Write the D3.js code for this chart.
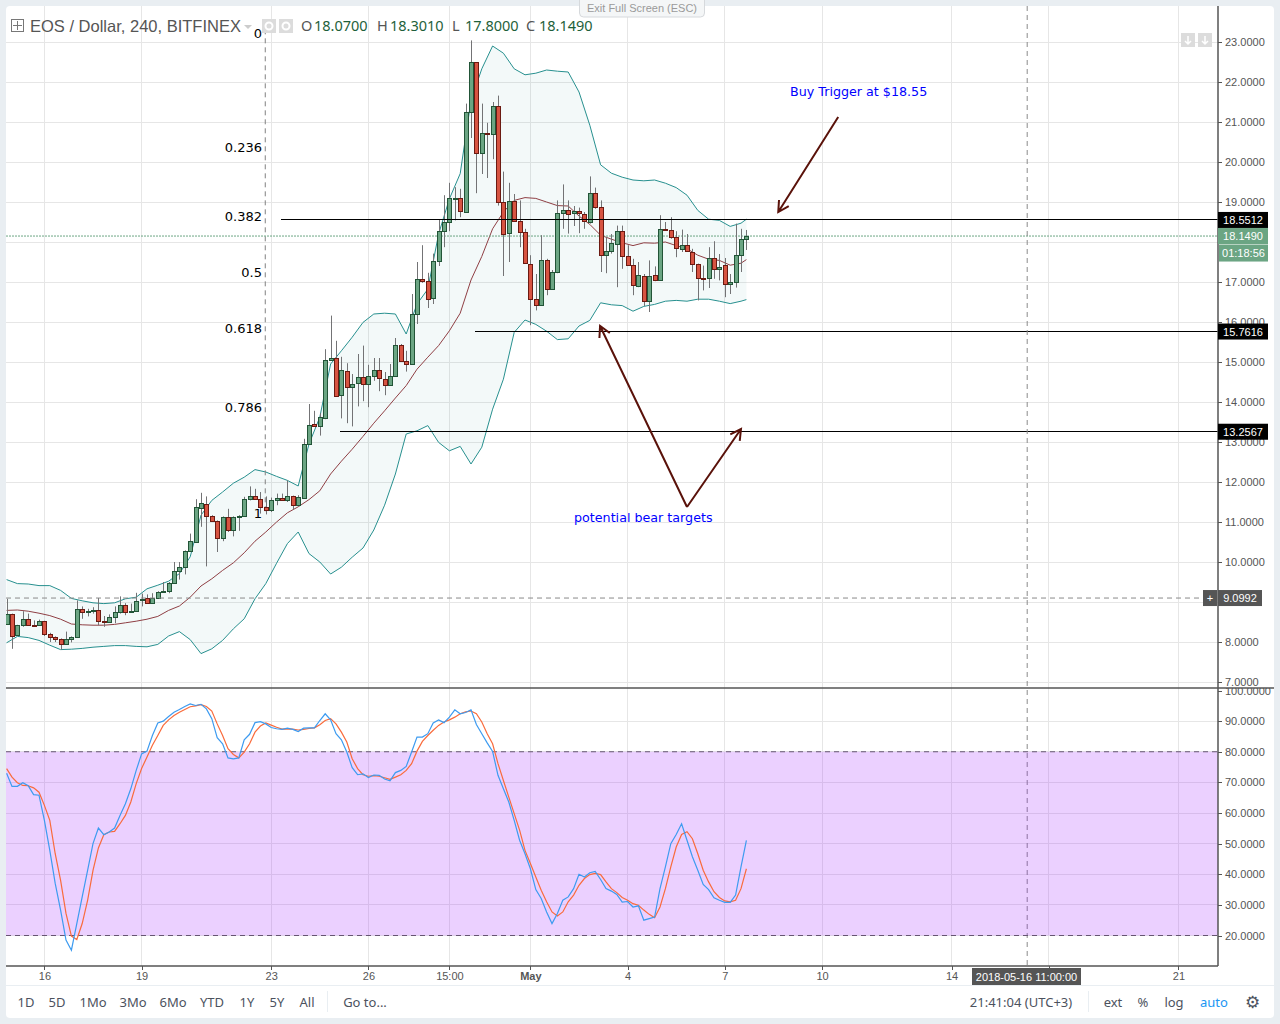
<!DOCTYPE html>
<html>
<head>
<meta charset="utf-8">
<script src="https://d3js.org/d3.v7.min.js"></script>
<style>
    html, body { margin: 0; padding: 0; background: #e9eef2; }
    svg { display: block; }
    text { font-family: "Liberation Sans", Arial, sans-serif; }
    .axis text { font-size: 11px; fill: #555; font-family: "Liberation Sans", Arial, sans-serif; }
    .axis line, .axis path { stroke: #555; shape-rendering: crispEdges; }
    .grid line { stroke: #e6e6e6; shape-rendering: crispEdges; }
    .tool { font-family: "Noto Sans", sans-serif; font-size: 13px; fill: #4c525e; }
    .fib { font-family: "DejaVu Sans", sans-serif; font-size: 13px; fill: #000; text-anchor: end; }
    .note { font-family: "DejaVu Sans", sans-serif; font-size: 12.7px; fill: #0000ff; }
    .ohlc { font-family: "Noto Sans", sans-serif; font-size: 14.5px; }
</style>
</head>
<body>
<svg id="chart" width="1280" height="1024"></svg>
<script>
(function() {
    'use strict';

    /* candles, one per 4h bar */
    var opens = [8.47,8.71,8.18,8.43,8.58,8.43,8.43,8.53,8.21,8.13,8.08,7.96,8.08,8.13,8.83,8.76,8.78,8.81,8.53,8.51,
        8.63,8.76,8.93,8.76,8.78,9.06,9.11,8.98,9.11,9.26,9.28,9.48,9.78,9.88,10.28,10.51,11.36,11.46,11.16,11.03,
        10.61,11.13,10.81,11.13,11.16,11.58,11.66,11.58,11.38,11.31,11.56,11.61,11.56,11.66,11.43,11.61,12.95,13.45,13.40,13.6,
        15.05,15.10,14.18,14.77,14.37,14.47,14.62,14.45,14.65,14.80,14.57,14.42,14.65,15.42,15.02,14.95,16.2,17.08,17.03,16.6,
        17.53,18.28,18.5,19.1,19.1,18.76,21.26,22.5,20.23,20.73,20.7,21.4,19.0,18.23,19.03,18.53,18.26,17.45,16.58,16.43,
        17.56,16.83,17.26,18.73,18.81,18.71,18.77,18.71,18.51,19.23,18.88,17.68,17.78,17.96,18.28,17.66,17.43,16.91,17.16,16.53,
        17.18,17.06,18.33,18.3,18.13,17.83,17.93,17.76,17.46,17.11,17.08,17.6,17.33,17.43,16.96,17.0,17.68,18.07];
    var highs = [9.08,8.71,8.43,8.77,8.71,8.54,8.56,8.53,8.23,8.14,8.09,8.26,8.14,9.04,8.89,8.83,8.87,9.10,8.65,8.69,
        8.89,9.14,8.97,8.96,9.23,9.21,9.19,9.22,9.27,9.5,9.5,10.0,10.0,10.29,10.71,11.57,11.73,11.64,11.17,11.04,
        11.14,11.33,11.14,11.17,11.63,11.89,11.83,11.75,11.64,11.61,11.71,11.71,12.04,11.66,11.67,13.08,13.95,13.78,13.72,15.32,
        16.16,15.53,15.13,14.97,14.70,15.2,15.41,14.93,15.1,15.1,14.75,14.95,15.6,15.45,15.28,16.7,17.5,17.92,17.23,17.71,
        18.56,19.17,19.48,19.37,19.33,21.46,23.04,22.5,21.46,20.98,21.5,21.66,19.76,19.48,19.2,19.04,18.33,17.67,17.2,18.17,
        17.58,17.3,19.04,19.44,19.04,18.9,18.86,18.75,19.64,19.36,19.04,18.12,18.2,18.41,18.41,17.92,17.58,17.5,17.2,17.54,
        17.39,18.67,18.5,18.62,18.27,18.31,18.2,17.83,17.46,17.41,17.87,18.02,17.7,17.6,17.2,18.46,18.33,18.301];
    var lows = [8.44,7.83,8.16,8.38,8.42,8.41,8.43,8.15,8.0,8.0,7.81,7.96,7.99,8.11,8.58,8.64,8.71,8.42,8.38,8.49,
        8.47,8.71,8.67,8.74,8.77,8.89,8.96,8.96,9.1,9.25,9.22,9.46,9.56,9.69,10.26,10.49,10.88,9.89,11.0,10.25,
        10.52,10.75,10.64,10.78,11.14,11.54,11.56,11.21,11.19,11.25,11.42,11.54,11.5,11.31,11.42,11.59,12.95,13.40,13.16,13.57,
        15.05,14.15,13.59,13.47,13.39,13.89,14.02,13.87,14.53,14.27,14.17,14.42,14.65,15.02,14.76,14.95,15.95,16.98,16.35,16.45,
        17.4,17.87,18.27,18.54,18.62,18.76,20.6,19.22,19.7,19.6,20.07,18.91,17.15,17.5,18.53,17.87,17.48,15.92,16.29,16.43,
        16.67,16.83,17.22,18.33,18.21,18.4,18.22,18.33,18.46,18.83,17.25,17.22,17.71,16.87,17.33,17.41,16.67,16.87,16.4,16.25,
        17.02,17.04,18.28,18.08,17.62,17.75,17.76,17.25,16.54,16.79,16.85,17.08,17.04,16.62,16.7,16.86,17.25,17.8];
    var closes = [8.71,8.16,8.43,8.58,8.43,8.42,8.53,8.21,8.13,8.08,7.96,8.08,8.13,8.83,8.76,8.78,8.81,8.53,8.51,8.63,
        8.76,8.93,8.76,8.78,9.03,9.08,8.98,9.11,9.26,9.28,9.48,9.78,9.88,10.28,10.53,11.38,11.48,11.16,11.03,10.61,
        11.13,10.81,11.13,11.16,11.58,11.66,11.58,11.38,11.31,11.56,11.61,11.56,11.66,11.43,11.63,12.95,13.42,13.40,13.62,15.05,
        15.10,14.15,14.80,14.37,14.45,14.62,14.45,14.65,14.80,14.60,14.42,14.65,15.42,15.02,14.95,16.2,17.08,17.03,16.59,17.53,
        18.28,18.5,19.1,19.1,18.78,21.26,22.5,20.23,20.73,20.7,21.4,19.0,18.2,19.03,18.53,18.26,17.48,16.58,16.43,17.56,
        16.83,17.26,18.73,18.81,18.71,18.77,18.71,18.53,19.23,18.88,17.68,17.78,17.98,18.28,17.66,17.43,16.93,17.18,16.53,17.16,
        17.06,18.33,18.3,18.13,17.86,17.93,17.78,17.46,17.11,17.08,17.59,17.33,17.38,16.96,17.0,17.68,18.08,18.149];

    /* bollinger bands, read every second bar (and the last one) */
    var bandBars = d3.range(0, 137, 2).concat([137]);
    var bandUpper = [9.56,9.46,9.45,9.41,9.41,9.29,9.09,9.03,8.98,8.96,8.98,9.08,9.12,9.33,9.42,9.52,9.71,10.13,11.17,11.54,
        11.75,11.97,12.12,12.31,12.25,12.14,12.04,11.9,12.95,13.62,14.95,15.28,15.62,15.99,16.2,16.22,16.2,15.7,16.45,16.82,
        18.2,19.08,19.71,21.54,22.33,22.9,22.72,22.33,22.18,22.22,22.3,22.27,22.25,21.75,20.92,19.93,19.72,19.62,19.55,19.53,
        19.55,19.47,19.36,19.17,18.79,18.57,18.54,18.39,18.47,18.57];
    var bandMiddle = [8.79,8.8,8.77,8.72,8.66,8.57,8.45,8.43,8.42,8.42,8.44,8.48,8.52,8.57,8.64,8.79,8.9,9.12,9.4,9.58,
        9.79,9.98,10.23,10.52,10.75,11.0,11.23,11.38,11.56,11.78,12.2,12.52,12.82,13.14,13.47,13.78,14.1,14.41,14.82,15.12,
        15.41,15.78,16.22,17.05,17.64,18.33,18.75,19.04,19.11,19.09,19.0,18.91,18.9,18.65,18.44,18.17,18.07,17.98,17.91,17.98,
        17.97,18.0,17.91,17.83,17.67,17.57,17.54,17.42,17.47,17.56];
    var bandLower = [7.98,8.14,8.11,8.04,7.92,7.81,7.82,7.84,7.87,7.89,7.91,7.91,7.89,7.88,7.94,8.15,8.26,8.06,7.71,7.83,
        8.04,8.33,8.58,9.08,9.46,9.97,10.46,10.75,10.21,10.0,9.7,9.87,10.12,10.35,10.8,11.42,12.2,13.2,13.28,13.41,
        12.99,12.78,12.89,12.45,12.87,13.82,14.57,15.74,16.05,15.94,15.77,15.56,15.58,15.9,16.04,16.48,16.43,16.41,16.27,16.39,
        16.44,16.52,16.54,16.52,16.57,16.57,16.52,16.46,16.52,16.56];

    /* stochastic, one value per bar */
    var stochK = [73.0,68.7,68.7,69.9,68.9,66.0,65.8,57.6,47.8,37.0,28.3,18.5,15.2,23.9,32.6,41.3,50.0,55.1,52.9,53.8,
        55.1,59.2,63.0,67.9,73.9,79.3,80.2,85.3,89.4,90.0,91.5,92.9,93.8,94.8,95.6,95.1,95.5,94.0,90.8,84.6,
        82.6,78.0,77.7,78.0,83.9,85.7,89.5,89.8,89.1,87.9,87.5,87.3,87.7,87.3,86.6,87.7,87.8,87.8,90.2,92.4,
        90.4,85.9,83.9,79.9,74.8,72.5,72.8,71.6,72.4,72.3,71.1,70.5,73.2,73.9,75.2,79.9,84.8,84.8,85.9,89.4,
        90.4,89.5,91.3,93.7,92.4,92.8,93.7,88.9,85.9,82.9,80.1,72.3,67.9,63.6,57.6,51.1,46.7,41.8,35.0,32.1,
        27.7,23.9,27.2,31.5,32.6,35.3,40.0,39.1,40.5,40.9,38.3,35.3,34.5,33.4,30.9,31.1,29.3,29.7,25.0,25.5,
        26.0,35.3,42.4,50.0,53.0,56.5,51.1,45.7,41.3,36.7,35.0,32.3,31.5,30.8,30.8,33.2,42.4,51.1];
    var stochD = [74.5,71.7,69.9,69.0,68.9,68.2,66.8,62.5,57.6,46.7,38.0,27.2,19.8,18.7,23.9,31.5,41.3,48.6,52.9,53.8,
        54.0,56.5,59.2,63.6,69.6,74.5,78.3,82.1,85.3,88.6,90.4,91.8,92.9,93.8,94.7,95.0,95.4,94.8,93.3,89.1,
        85.3,81.0,79.1,78.0,79.9,82.6,86.4,88.4,89.4,88.7,88.0,87.4,87.5,87.4,87.1,87.3,87.6,87.8,88.8,90.2,
        90.8,89.1,86.4,83.2,77.7,74.5,72.5,72.0,72.2,72.0,71.5,71.0,71.7,72.5,73.9,76.1,80.2,83.4,85.3,87.0,
        88.6,89.7,90.4,91.3,92.4,93.0,93.3,92.4,89.7,85.9,82.6,76.1,70.6,65.2,59.8,54.4,47.8,43.5,39.1,34.8,
        31.0,27.7,26.4,27.7,31.0,33.2,36.4,38.6,39.9,40.3,39.9,37.5,35.3,34.0,32.4,31.5,30.4,29.9,28.3,26.9,
        25.8,29.3,35.3,42.4,48.9,53.0,53.9,51.6,46.7,41.3,37.5,34.3,32.4,31.3,31.0,31.5,35.3,41.8];

    /* axes */
    var priceTicks = d3.range(7, 24);
    var hiddenPriceTicks = [9, 18];   // covered by price tags in the picture
    var stochTicks = d3.range(20, 101, 10);
    var timeBars = [7, 25, 49, 67, 82, 97, 115, 133, 151, 175, 193, 217];
    var timeLabels = ['16', '19', '23', '26', '15:00', 'May', '4', '7', '10', '14', '', '21'];

    /* drawings */
    var fibNames = ['0', '0.236', '0.382', '0.5', '0.618', '0.786', '1'];
    var fibPrices = [23.067, 20.28, 18.5512, 17.157, 15.7616, 13.776, 11.247];
    var levelPrices = [18.5512, 15.7616, 13.2567];
    var levelStartBars = [50.8, 86.7, 61.7];
    var arrowFrom = [[154, 21.125], [126, 11.375], [126, 11.375]];
    var arrowTo = [[142.9, 18.75], [109.9, 15.9], [136, 13.325]];

    var L = 6, R = 1218, PANEL_R = 1274, TOP = 6, SPLIT = 688, BOTTOM = 966;

    var x = d3.scaleLinear().domain([0, 224]).range([6.6, 6.6 + 5.4 * 224]);
    var yPrice = d3.scaleLinear().domain([7, 23]).range([682, 42]);
    var yStoch = d3.scaleLinear().domain([20, 100]).range([935.5, 690.5]);

    var svg = d3.select('#chart');
    var defs = svg.append('defs');

    defs.append('clipPath').attr('id', 'clipPrice').append('rect')
        .attr('x', L).attr('y', TOP).attr('width', R - L).attr('height', SPLIT - TOP);
    defs.append('clipPath').attr('id', 'clipStoch').append('rect')
        .attr('x', L).attr('y', SPLIT).attr('width', R - L).attr('height', BOTTOM - SPLIT);
    defs.append('clipPath').attr('id', 'clipStochAxis').append('rect')
        .attr('x', R).attr('y', SPLIT).attr('width', PANEL_R - R).attr('height', BOTTOM - SPLIT);

    /* panel */
    svg.append('rect')
        .attr('x', L).attr('y', TOP).attr('width', PANEL_R - L).attr('height', 1018 - TOP)
        .attr('rx', 4).attr('fill', '#fff');

    /******************************************************************
        grid
     ******************************************************************/
    var grid = svg.append('g').attr('class', 'grid');

    grid.selectAll('.v').data(timeBars).enter().append('line')
        .attr('x1', x).attr('x2', x).attr('y1', TOP).attr('y2', BOTTOM);
    grid.selectAll('.p').data(priceTicks).enter().append('line')
        .attr('x1', L).attr('x2', R).attr('y1', yPrice).attr('y2', yPrice);
    grid.selectAll('.s').data(stochTicks.slice(0, -1)).enter().append('line')
        .attr('x1', L).attr('x2', R).attr('y1', yStoch).attr('y2', yStoch);

    /******************************************************************
        bollinger bands
     ******************************************************************/
    var price = svg.append('g').attr('clip-path', 'url(#clipPrice)');

    var bandIdx = d3.range(bandBars.length);

    price.append('path')
        .attr('fill', '#138484').attr('fill-opacity', 0.05)
        .attr('d', d3.area()
            .x(function(i) { return x(bandBars[i]); })
            .y0(function(i) { return yPrice(bandLower[i]); })
            .y1(function(i) { return yPrice(bandUpper[i]); })(bandIdx));

    [[bandUpper, '#27908f'], [bandLower, '#27908f'], [bandMiddle, '#8f3f44']].forEach(function(b) {
        price.append('path')
            .attr('fill', 'none').attr('stroke', b[1]).attr('stroke-width', 1)
            .attr('d', d3.line()
                .x(function(i) { return x(bandBars[i]); })
                .y(function(i) { return yPrice(b[0][i]); })(bandIdx));
    });

    /******************************************************************
        levels and fibonacci
     ******************************************************************/
    price.append('line')
        .attr('x1', x(47.9)).attr('x2', x(47.9))
        .attr('y1', yPrice(fibPrices[0]) - 10).attr('y2', yPrice(fibPrices[6]))
        .attr('stroke', '#808080').attr('stroke-dasharray', '5,4');

    price.append('line')
        .attr('x1', L).attr('x2', R).attr('y1', yPrice(18.149)).attr('y2', yPrice(18.149))
        .attr('stroke', '#6ba583').attr('stroke-dasharray', '2,1');

    svg.selectAll('.fib').data(fibNames).enter().append('text')
        .attr('class', 'fib')
        .attr('x', 262)
        .attr('y', function(d, i) {
            return yPrice(fibPrices[i]) + (d === '0' ? -1 : d === '1' ? 6 : 1);
        })
        .text(function(d) { return d; });

    /******************************************************************
        candles
     ******************************************************************/
    var bars = d3.range(closes.length);
    var candles = price.selectAll('.candle').data(bars).enter().append('g')
        .attr('transform', function(i) { return 'translate(' + (Math.round(x(i)) + 0.5) + ',0)'; });

    candles.append('line')
        .attr('y1', function(i) { return yPrice(highs[i]); })
        .attr('y2', function(i) { return yPrice(lows[i]); })
        .attr('stroke', '#737375');

    candles.append('rect')
        .attr('x', -2).attr('width', 4)
        .attr('y', function(i) { return Math.round(yPrice(Math.max(opens[i], closes[i]))) + 0.5; })
        .attr('height', function(i) {
            return Math.max(1, Math.round(Math.abs(yPrice(opens[i]) - yPrice(closes[i]))));
        })
        .attr('fill', function(i) { return closes[i] >= opens[i] ? '#6ba583' : '#d75442'; })
        .attr('stroke', function(i) { return closes[i] >= opens[i] ? '#225437' : '#6b1a12'; })
        .attr('shape-rendering', 'crispEdges');

    /* horizontal lines sit on top of the candles */
    levelPrices.forEach(function(p, i) {
        price.append('line')
            .attr('x1', x(levelStartBars[i])).attr('x2', R)
            .attr('y1', yPrice(p)).attr('y2', yPrice(p))
            .attr('stroke', '#000').attr('stroke-width', 1)
            .attr('shape-rendering', 'crispEdges');
    });

    /* crosshair */
    price.append('line')
        .attr('x1', L).attr('x2', R - 15).attr('y1', yPrice(9.0992)).attr('y2', yPrice(9.0992))
        .attr('stroke', '#8a8a8a').attr('stroke-dasharray', '5,4');
    svg.append('line')
        .attr('x1', x(189)).attr('x2', x(189)).attr('y1', TOP).attr('y2', BOTTOM)
        .attr('stroke', '#8a8a8a').attr('stroke-dasharray', '5,4');

    /******************************************************************
        arrows
     ******************************************************************/
    var arrows = svg.append('g')
        .attr('fill', 'none').attr('stroke', '#5a120a')
        .attr('stroke-width', 2);

    arrowFrom.forEach(function(from, i) {
        var x1 = x(from[0]), y1 = yPrice(from[1]),
            x2 = x(arrowTo[i][0]), y2 = yPrice(arrowTo[i][1]),
            a = Math.atan2(y2 - y1, x2 - x1),
            h = 12, w = 0.5;

        arrows.append('path').attr('d', 'M' + x1 + ' ' + y1 + ' L' + x2 + ' ' + y2 +
            ' M' + (x2 - h * Math.cos(a - w)) + ' ' + (y2 - h * Math.sin(a - w)) +
            ' L' + x2 + ' ' + y2 +
            ' L' + (x2 - h * Math.cos(a + w)) + ' ' + (y2 - h * Math.sin(a + w)));
    });

    svg.append('text').attr('class', 'note').attr('x', 790).attr('y', 96).text('Buy Trigger at $18.55');
    svg.append('text').attr('class', 'note').attr('x', 574).attr('y', 522).text('potential bear targets');

    /******************************************************************
        stochastic pane
     ******************************************************************/
    var stoch = svg.append('g').attr('clip-path', 'url(#clipStoch)');

    stoch.append('rect')
        .attr('x', L).attr('width', R - L)
        .attr('y', yStoch(80)).attr('height', yStoch(20) - yStoch(80))
        .attr('fill', '#9915ff').attr('fill-opacity', 0.2);

    [80, 20].forEach(function(v) {
        stoch.append('line')
            .attr('x1', L).attr('x2', R).attr('y1', yStoch(v)).attr('y2', yStoch(v))
            .attr('stroke', '#665572').attr('stroke-dasharray', '5,4').attr('stroke-width', 1.2);
    });

    [[stochD, '#f96b3c'], [stochK, '#3d9bf0']].forEach(function(s) {
        stoch.append('path')
            .attr('fill', 'none').attr('stroke', s[1]).attr('stroke-width', 1.2)
            .attr('d', d3.line()
                .x(function(d, i) { return x(i); })
                .y(function(d) { return yStoch(d); })(s[0]));
    });

    /******************************************************************
        axes
     ******************************************************************/
    var priceAxis = d3.axisRight(yPrice).tickValues(priceTicks)
        .tickFormat(function(d) { return hiddenPriceTicks.indexOf(d) < 0 ? d3.format('.4f')(d) : ''; })
        .tickSize(4).tickPadding(3);
    var stochAxis = d3.axisRight(yStoch).tickValues(stochTicks)
        .tickFormat(d3.format('.4f')).tickSize(4).tickPadding(3);
    var timeAxis = d3.axisBottom(x).tickValues(timeBars)
        .tickFormat(function(d) { return timeLabels[timeBars.indexOf(d)]; })
        .tickSize(4).tickPadding(2);

    svg.append('g').attr('class', 'axis')
        .attr('transform', 'translate(' + R + ',0)').call(priceAxis)
        .select('.domain').remove();

    svg.append('g').attr('clip-path', 'url(#clipStochAxis)')
        .append('g').attr('class', 'axis')
        .attr('transform', 'translate(' + R + ',0)').call(stochAxis)
        .select('.domain').remove();

    var tg = svg.append('g').attr('class', 'axis')
        .attr('transform', 'translate(0,' + BOTTOM + ')').call(timeAxis);
    tg.select('.domain').remove();
    tg.selectAll('text').style('font-weight', function(d) {
        return d === 97 ? 'bold' : null;
    });

    /* pane frames */
    [[L, R, BOTTOM, BOTTOM], [L, PANEL_R, SPLIT, SPLIT], [R, R, TOP, BOTTOM]].forEach(function(f) {
        svg.append('line')
            .attr('x1', f[0]).attr('x2', f[1]).attr('y1', f[2]).attr('y2', f[3])
            .attr('stroke', '#555').attr('stroke-width', 1.5);
    });

    /******************************************************************
        price tags
     ******************************************************************/
    function tag(y, h, fill, label, tx, wd) {
        svg.append('rect').attr('x', tx).attr('y', y - h / 2).attr('width', wd).attr('height', h).attr('fill', fill);
        svg.append('text').attr('x', tx + wd / 2).attr('y', y + 4)
            .attr('text-anchor', 'middle').attr('font-size', 11).attr('fill', '#fff').text(label);
    }

    levelPrices.forEach(function(p) {
        tag(yPrice(p), 16, '#000', d3.format('.4f')(p), R, 50);
    });
    tag(yPrice(18.149), 16, '#6ba583', '18.1490', R, 50);
    tag(yPrice(18.149) + 17, 17, '#6ba583', '01:18:56', R + 1, 49);
    tag(yPrice(9.0992), 16, '#555', '9.0992', R, 44);
    tag(yPrice(9.0992), 16, '#555', '+', R - 15, 14);
    tag(977, 18, '#555', '2018-05-16 11:00:00', 972, 109);

    /******************************************************************
        top legend and small buttons
     ******************************************************************/
    svg.append('rect').attr('x', 11.5).attr('y', 19.5).attr('width', 12).attr('height', 12)
        .attr('fill', 'none').attr('stroke', '#777');
    svg.append('path').attr('d', 'M17.5 21 V30 M13 25.5 H22').attr('stroke', '#777');

    svg.append('text').attr('x', 30).attr('y', 32)
        .attr('font-family', '"DejaVu Sans", sans-serif').attr('font-size', 16.5).attr('fill', '#555')
        .text('EOS / Dollar, 240, BITFINEX');
    svg.append('path').attr('d', 'M244 25 h8 l-4 4 z').attr('fill', '#ccc');

    [262, 279].forEach(function(bx) {
        svg.append('rect').attr('x', bx).attr('y', 19).attr('width', 14).attr('height', 14).attr('fill', '#dcdcdc');
        svg.append('circle').attr('cx', bx + 7).attr('cy', 26).attr('r', 3.5)
            .attr('fill', 'none').attr('stroke', '#fff').attr('stroke-width', 2);
    });

    var ohlcNames = ['O', 'H', 'L', 'C'];
    var ohlcValues = ['18.0700', '18.3010', '17.8000', '18.1490'];
    var ohlcX = [301, 377, 452, 526];

    ohlcNames.forEach(function(n, i) {
        svg.append('text').attr('class', 'ohlc').attr('x', ohlcX[i]).attr('y', 31).attr('fill', '#555').text(n);
        svg.append('text').attr('class', 'ohlc').attr('x', ohlcX[i] + 13).attr('y', 31).attr('fill', '#1e5f3a').text(ohlcValues[i]);
    });

    [1181, 1198].forEach(function(bx) {
        svg.append('rect').attr('x', bx).attr('y', 33).attr('width', 14).attr('height', 14).attr('fill', '#dcdcdc');
        svg.append('path').attr('d', 'M' + (bx + 7) + ' 36 V44 M' + (bx + 4) + ' 41 L' + (bx + 7) + ' 44 L' + (bx + 10) + ' 41')
            .attr('fill', 'none').attr('stroke', '#fff').attr('stroke-width', 1.5);
    });

    /* full screen tab */
    svg.append('rect').attr('x', 579.5).attr('y', -4).attr('width', 125).attr('height', 21).attr('rx', 4)
        .attr('fill', '#f4f6f7').attr('stroke', '#d6d9dc');
    svg.append('text').attr('x', 642).attr('y', 12).attr('text-anchor', 'middle')
        .attr('font-size', 11).attr('fill', '#9a9a9a').text('Exit Full Screen (ESC)');

    /******************************************************************
        bottom toolbar
     ******************************************************************/
    svg.append('line').attr('x1', L).attr('x2', PANEL_R).attr('y1', 985.5).attr('y2', 985.5).attr('stroke', '#e9eef2');
    [327.5, 1088.5].forEach(function(sx) {
        svg.append('line').attr('x1', sx).attr('x2', sx).attr('y1', 991).attr('y2', 1012).attr('stroke', '#e9eef2');
    });

    var toolLabels = ['1D', '5D', '1Mo', '3Mo', '6Mo', 'YTD', '1Y', '5Y', 'All', 'Go to...', '21:41:04 (UTC+3)', 'ext', '%', 'log', 'auto'];
    var toolCenters = [26, 57, 93, 133, 173, 212, 247, 277, 307, 365, 1021, 1113, 1143, 1174, 1214];

    svg.selectAll('.tool').data(toolLabels).enter().append('text')
        .attr('class', 'tool')
        .attr('x', function(d, i) { return toolCenters[i]; })
        .attr('y', 1007)
        .attr('text-anchor', 'middle')
        .style('fill', function(d) { return d === 'auto' ? '#2196f3' : null; })
        .text(function(d) { return d; });

    svg.append('text').attr('x', 1252).attr('y', 1008).attr('text-anchor', 'middle')
        .attr('font-family', '"DejaVu Sans", sans-serif').attr('font-size', 17).attr('fill', '#4c525e')
        .text('\u2699');
})();
</script>
</body>
</html>
